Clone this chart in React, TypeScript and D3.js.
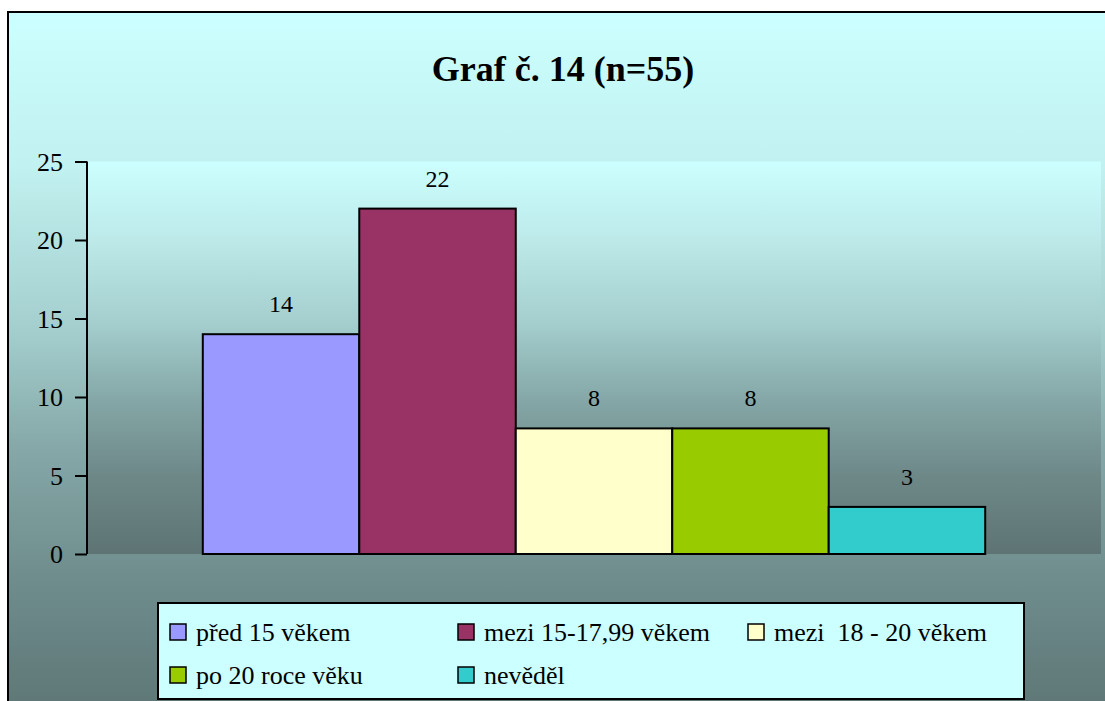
import React, { useEffect, useRef } from "react";
import * as d3 from "d3";

const categories = ["před 15 věkem", "mezi 15-17,99 věkem", "mezi  18 - 20 věkem", "po 20 roce věku", "nevěděl"];
const values = [14, 22, 8, 8, 3];
const colors = ["#9999ff", "#993366", "#ffffcc", "#99cc00", "#33cccc"];
const yTicks = [0, 5, 10, 15, 20, 25];

const W = 1105;
const H = 701;
const plot = { left: 87, right: 1101, top: 161.5, bottom: 554 };
const FONT = "Liberation Serif";

const outerStops: [number, string][] = [
  [0, "#ccffff"],
  [0.22, "#c1f1f0"],
  [0.45, "#a5cfcf"],
  [0.62, "#86a8a8"],
  [0.8, "#708e8e"],
  [1, "#5e7676"],
];
const plotStops: [number, string][] = [
  [0, "#ccffff"],
  [0.2, "#bde9e9"],
  [0.4, "#a6d0d0"],
  [0.6, "#86a8a8"],
  [0.8, "#6e8888"],
  [1, "#5e7474"],
];

const App = () => {
  const ref = useRef<HTMLDivElement>(null);

  useEffect(() => {
    document.body.style.margin = "0";
    const svg = d3
      .select(ref.current)
      .html("")
      .append("svg")
      .attr("width", W)
      .attr("height", H)
      .style("display", "block")
      .style("font-family", FONT);

    const defs = svg.append("defs");
    const grad = (id: string, stops: [number, string][]) => {
      const g = defs.append("linearGradient").attr("id", id).attr("x1", 0).attr("y1", 0).attr("x2", 0).attr("y2", 1);
      stops.forEach(([o, c]) => g.append("stop").attr("offset", o).attr("stop-color", c));
    };
    grad("outerBg", outerStops);
    grad("plotBg", plotStops);

    svg
      .append("rect")
      .attr("x", 8)
      .attr("y", 12)
      .attr("width", 1110)
      .attr("height", 700)
      .attr("fill", "url(#outerBg)")
      .attr("stroke", "#000")
      .attr("stroke-width", 2);

    svg
      .append("text")
      .attr("x", 563)
      .attr("y", 81)
      .attr("text-anchor", "middle")
      .style("font-family", FONT)
      .style("font-weight", "bold")
      .style("font-size", "36px")
      .text("Graf č. 14 (n=55)");

    svg
      .append("rect")
      .attr("x", plot.left)
      .attr("y", plot.top)
      .attr("width", plot.right - plot.left)
      .attr("height", plot.bottom - plot.top)
      .attr("fill", "url(#plotBg)");

    const y = d3.scaleLinear().domain([0, 25]).range([plot.bottom, plot.top]);
    const x = d3
      .scaleBand<string>()
      .domain(categories)
      .range([plot.left, plot.right])
      .paddingInner(0)
      .paddingOuter(0.74);

    const bars = svg.selectAll("g.bar").data(categories).enter().append("g").attr("class", "bar");
    bars
      .append("rect")
      .attr("x", (d) => x(d) ?? 0)
      .attr("y", (d, i) => y(values[i]))
      .attr("width", x.bandwidth())
      .attr("height", (d, i) => y(0) - y(values[i]))
      .attr("fill", (d, i) => colors[i])
      .attr("stroke", "#000")
      .attr("stroke-width", 2);
    bars
      .append("text")
      .attr("x", (d) => (x(d) ?? 0) + x.bandwidth() / 2)
      .attr("y", (d, i) => y(values[i]) - 22)
      .attr("text-anchor", "middle")
      .style("font-family", FONT)
      .style("font-size", "24px")
      .text((d, i) => values[i]);

    // y axis
    const axis = svg.append("g").attr("transform", `translate(${plot.left},0)`);
    axis
      .call(d3.axisLeft(y).tickValues(yTicks).tickSize(12).tickPadding(12))
      .call((g) => g.select(".domain").attr("d", `M0,${plot.top}V${plot.bottom}`).attr("stroke-width", 2))
      .call((g) => g.selectAll(".tick line").attr("stroke-width", 2))
      .call((g) =>
        g
          .selectAll(".tick text")
          .attr("fill", "#000")
          .attr("dy", "0.33em")
          .style("font-family", FONT)
          .style("font-size", "26px")
      );
    axis.attr("font-family", null).attr("font-size", null);

    // legend
    const legendCols = [170, 458, 748];
    const legendRows = [632, 675];
    svg
      .append("rect")
      .attr("x", 158)
      .attr("y", 603)
      .attr("width", 866)
      .attr("height", 96)
      .attr("fill", "#ccffff")
      .attr("stroke", "#000")
      .attr("stroke-width", 2);
    const items = svg
      .selectAll("g.lg")
      .data(categories)
      .enter()
      .append("g")
      .attr("class", "lg")
      .attr("transform", (d, i) => `translate(${legendCols[i % 3]},${legendRows[Math.floor(i / 3)]})`);
    items
      .append("rect")
      .attr("y", -8)
      .attr("width", 16)
      .attr("height", 16)
      .attr("fill", (d, i) => colors[i])
      .attr("stroke", "#000")
      .attr("stroke-width", 1.5);
    items
      .append("text")
      .attr("x", 26)
      .attr("dy", "0.33em")
      .style("font-family", FONT)
      .style("font-size", "26px")
      .style("white-space", "pre")
      .text((d) => d);
  }, []);

  return <div ref={ref}></div>;
};

export default App;
